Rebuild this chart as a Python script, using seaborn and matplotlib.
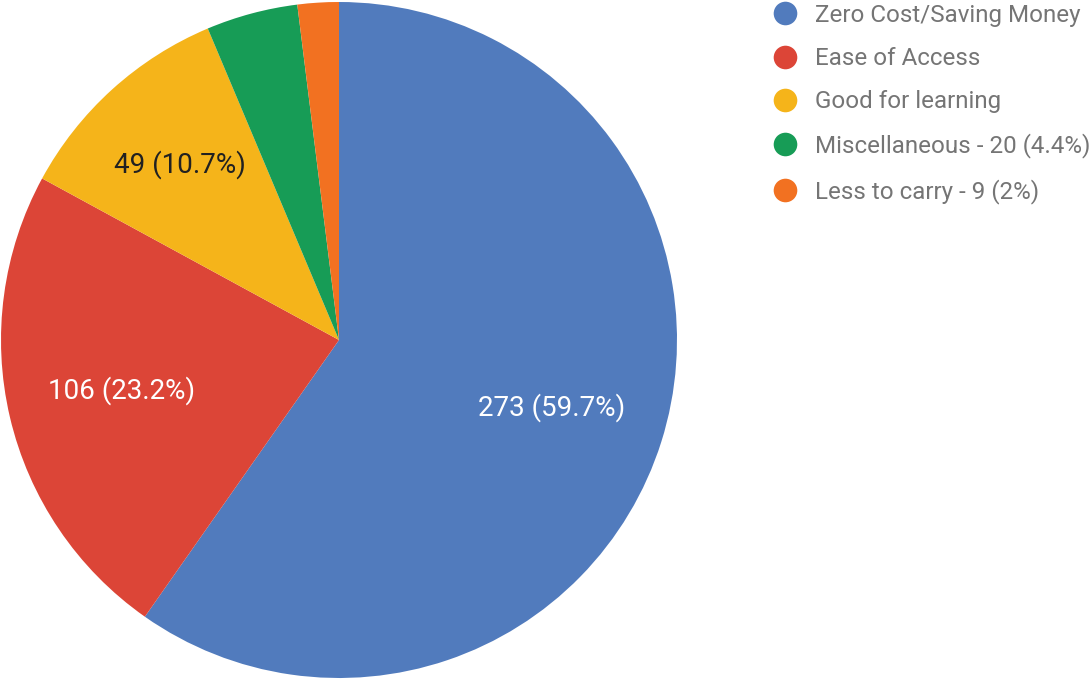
import matplotlib.pyplot as plt
import seaborn as sns
from matplotlib.lines import Line2D

# Survey answers
categories = ["Zero Cost/Saving Money", "Ease of Access", "Good for learning",
              "Miscellaneous - 20 (4.4%)", "Less to carry - 9 (2%)"]
counts = [273, 106, 49, 20, 9]
slice_colors = ["#517bbd", "#dc4537", "#f5b41a", "#179c56", "#f27121"]
label_colors = ["white", "white", "#212121", "white", "white"]


def make_label(pct):
    n = int(round(pct * sum(counts) / 100.0))
    if pct < 5:
        return ""
    return f"{n} ({pct:.1f}%)"


def plot_pie():
    sns.set_theme(style="white")
    plt.rcParams['font.family'] = ['Roboto', 'DejaVu Sans']

    fig = plt.figure(figsize=(10.91, 6.79), dpi=100)
    ax = fig.add_axes([1 / 1091, 1 / 679, 676 / 1091, 676 / 679])

    wedges, _, autotexts = ax.pie(
        counts, colors=sns.color_palette(slice_colors), startangle=90,
        counterclock=False, autopct=make_label, pctdistance=0.66,
        wedgeprops=dict(linewidth=0), textprops=dict(fontsize=20))
    for t, c in zip(autotexts, label_colors):
        t.set_color(c)
    # the smaller yellow slice has its label pushed a bit further out
    x, y = autotexts[2].get_position()
    autotexts[2].set_position((x * 0.7 / 0.66, y * 0.7 / 0.66))
    ax.set_xlim(-1, 1)
    ax.set_ylim(-1, 1)
    ax.set_aspect("equal")

    handles = [Line2D([0], [0], marker="o", linestyle="none", markersize=17,
                      markerfacecolor=c, markeredgewidth=0) for c in slice_colors]
    leg = fig.legend(handles, categories, loc="upper left",
                     bbox_to_anchor=(763 / 1091, 1.0 + 6 / 679), frameon=False,
                     fontsize=17.4, labelspacing=0.84, handletextpad=0.75,
                     handlelength=1.0, borderaxespad=0)
    for t in leg.get_texts():
        t.set_color("#757575")

    fig.savefig("out.png", dpi=100)
    plt.close(fig)


if __name__ == "__main__":
    plot_pie()
